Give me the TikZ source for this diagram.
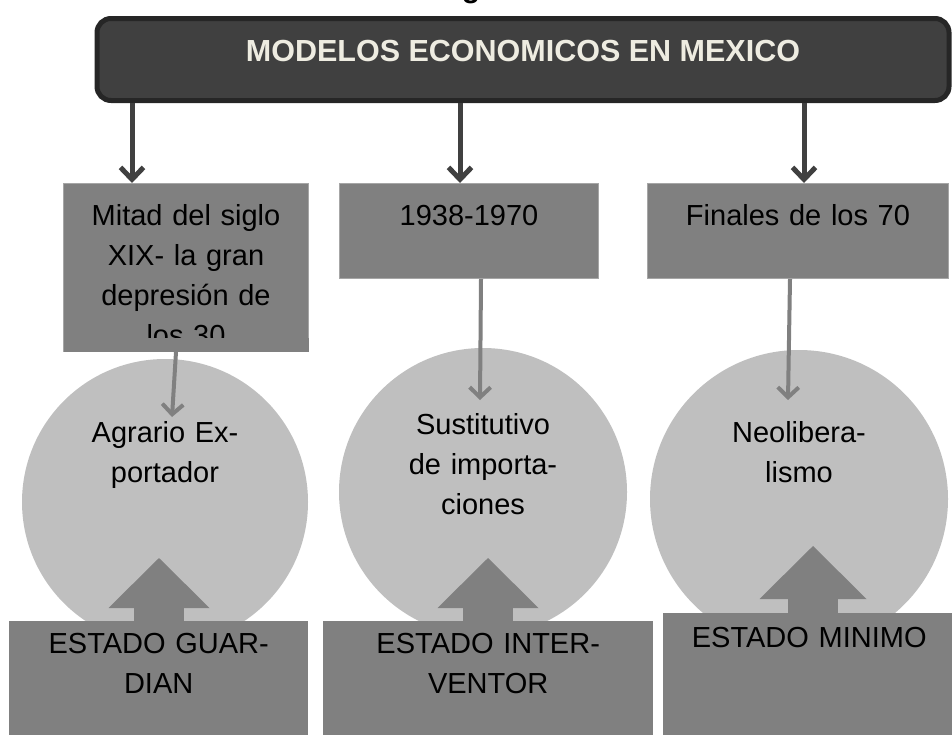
\documentclass[tikz,border=0pt]{standalone}
\usepackage{fontspec}
\setmainfont{Liberation Sans}
\usetikzlibrary{arrows.meta,positioning}

\definecolor{titlefill}{HTML}{404040}
\definecolor{titleedge}{HTML}{262626}
\definecolor{titletext}{HTML}{EEECE1}
\definecolor{midgray}{HTML}{808080}
\definecolor{edgegray}{HTML}{A6A6A6}
\definecolor{circgray}{HTML}{BFBFBF}

\begin{document}
\begin{tikzpicture}[
  x=1pt, y=-1pt,
  titlebox/.style={rectangle, rounded corners=14pt, draw=titleedge, line width=5pt, fill=titlefill, text=titletext, font=\bfseries\fontsize{30.5}{36}\selectfont, minimum width=852pt, minimum height=82pt, text depth=18pt},
  datebox/.style={rectangle, draw=edgegray, line width=1pt, fill=midgray, anchor=north west, inner xsep=0pt, inner ysep=14pt, align=center, font=\fontsize{29}{40}\selectfont, text height=28pt},
  modelcircle/.style={circle, fill=circgray, inner sep=0pt, align=center, text width=200pt, font=\fontsize{29}{40}\selectfont, text height=28pt},
  statebox/.style={rectangle, fill=midgray, anchor=north west, inner xsep=0pt, inner ysep=4pt, align=center, font=\fontsize{29}{40}\selectfont, text height=28pt},
  darkline/.style={-{Straight Barb[length=12pt,width=23pt]}, line width=5pt, draw=titlefill},
  grayline/.style={-{Straight Barb[length=10pt,width=21pt]}, line width=4pt, draw=midgray},
  blockarrow/.style={-{Triangle[length=50pt,width=101pt,line width=0pt]}, line width=50pt, draw=midgray}
]
\useasboundingbox (0,0) rectangle (952,734);

\node[font=\bfseries\fontsize{30}{36}\selectfont, anchor=base, inner sep=0pt] (corte) at (471,-3) {g};
\node[titlebox] (modelos) at (523,59.5) {MODELOS ECONOMICOS EN MEXICO};

\node[datebox, text width=245pt, text depth=112pt] (mitad) at (63,183) {Mitad del siglo\\XIX- la gran\\depresión de\\los 30};
\node[datebox, text width=259pt, text depth=39pt] (periodo) at (339,183) {1938-1970};
\node[datebox, text width=301pt, text depth=39pt] (finales) at (647,183) {Finales de los 70};
% last line of the first box is cut off
\fill[midgray] ([xshift=0.5pt,yshift=0.5pt]mitad.south west) rectangle ([xshift=-0.5pt,yshift=14pt]mitad.south east);

\node[modelcircle, minimum size=286pt, text depth=148pt] (agrario) at (165,502) {Agrario Ex-\\portador};
\node[modelcircle, minimum size=288pt, text depth=144pt] (sustitutivo) at (483,492) {Sustitutivo\\de importa-\\ciones};
\node[modelcircle, minimum size=298pt, text depth=142pt] (neoliberal) at (799,499) {Neolibera-\\lismo};

\coordinate (agr-in) at (172,417);
\coordinate (sus-in) at (480,400);
\coordinate (neo-in) at (788,400);

\draw[darkline] (132,0 |- modelos.south) -- (132,0 |- mitad.north);
\draw[darkline] (460,0 |- modelos.south) -- (460,0 |- periodo.north);
\draw[darkline] (804,0 |- modelos.south) -- (804,0 |- finales.north);
\draw[grayline] (176,0 |- mitad.south) -- (agr-in);
\draw[grayline] (481,0 |- periodo.south) -- (sus-in);
\draw[grayline] (790,0 |- finales.south) -- (neo-in);

\node[statebox, text width=299pt, text depth=83pt] (guardian) at (9,621) {ESTADO GUAR-\\DIAN};
\node[statebox, text width=330pt, text depth=83pt] (interventor) at (323,621) {ESTADO INTER-\\VENTOR};
\node[statebox, text width=292pt, text depth=89pt, text height=30pt] (minimo) at (663,613) {ESTADO MINIMO};

\coordinate (agr-out) at (159,558);
\coordinate (sus-out) at (488,558);
\coordinate (neo-out) at (813,546);

\draw[blockarrow] (159,0 |- guardian.north) -- (agr-out);
\draw[blockarrow] (488,0 |- interventor.north) -- (sus-out);
\draw[blockarrow, -{Triangle[length=53pt,width=107pt,line width=0pt]}] (813,0 |- minimo.north) -- (neo-out);
\end{tikzpicture}
\end{document}
